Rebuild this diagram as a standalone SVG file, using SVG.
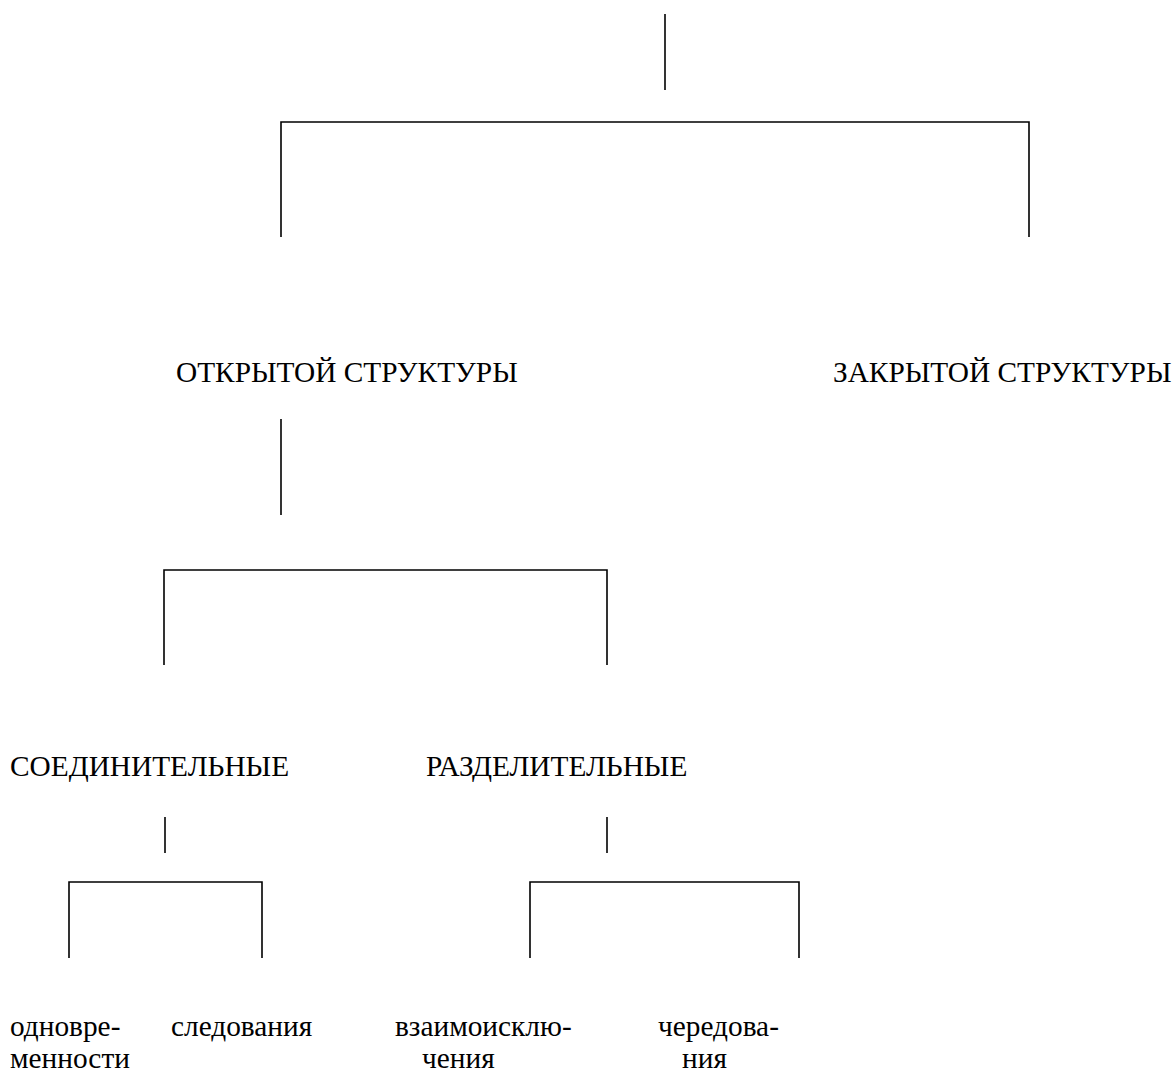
<svg xmlns="http://www.w3.org/2000/svg" width="1176" height="1071" viewBox="0 0 1176 1071">
<style>
.c{fill:none;stroke:#000;stroke-width:1.6}
text{font-family:"Liberation Serif","Times New Roman",serif;font-size:29.33px;fill:#000}
</style>
<rect width="1176" height="1071" fill="#fff"/>
<g id="connectors">
<path class="c" d="M665 14V90"/>
<path class="c" d="M281 237V122H1029V237"/>
<path class="c" d="M281 419V515"/>
<path class="c" d="M164 665V570H607V665"/>
<path class="c" d="M165 817V853"/>
<path class="c" d="M607 817V853"/>
<path class="c" d="M69 958V882H262V958"/>
<path class="c" d="M530 958V882H799V958"/>
</g>
<g id="n-open"><text x="176" y="382">ОТКРЫТОЙ СТРУКТУРЫ</text></g>
<g id="n-closed"><text x="833" y="382">ЗАКРЫТОЙ СТРУКТУРЫ</text></g>
<g id="n-conj"><text x="10" y="776">СОЕДИНИТЕЛЬНЫЕ</text></g>
<g id="n-disj"><text x="426" y="776">РАЗДЕЛИТЕЛЬНЫЕ</text></g>
<g id="n-simult"><text x="10" y="1036">одновре-</text><text x="10" y="1068">менности</text></g>
<g id="n-seq"><text x="171" y="1036">следования</text></g>
<g id="n-excl"><text x="395" y="1036">взаимоисклю-</text><text x="422" y="1068">чения</text></g>
<g id="n-alt"><text x="658" y="1036">чередова-</text><text x="682" y="1068">ния</text></g>
</svg>
